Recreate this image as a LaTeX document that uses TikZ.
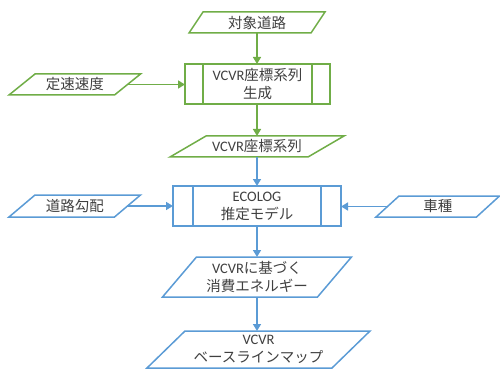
\documentclass[tikz,border=0pt]{standalone}
\usepackage{fontspec}
\setmainfont{Carlito}
\newfontfamily\jp{Noto Sans CJK JP}
\usetikzlibrary{arrows.meta}
\definecolor{gline}{HTML}{70AD47}
\definecolor{bline}{HTML}{5B9BD5}
\definecolor{txt}{HTML}{404040}
\newcommand\parabox[3]{\draw[#1] ([xshift=#3/2 pt]#2.north west) -- ([xshift=#3/2 pt]#2.north east) -- ([xshift=-#3/2 pt]#2.south east) -- ([xshift=-#3/2 pt]#2.south west) -- cycle;}
\newcommand\procbox[3]{\draw[#1] (#2.north west) rectangle (#2.south east);
  \draw[#1] ([xshift=#3 pt]#2.north west) -- ([xshift=#3 pt]#2.south west);
  \draw[#1] ([xshift=-#3 pt]#2.north east) -- ([xshift=-#3 pt]#2.south east);}
\begin{document}
\begin{tikzpicture}[x=1pt,y=-1pt,
  lbl/.style={inner sep=0pt, outer sep=0pt, text=txt, font=\fontsize{14.5}{18}\selectfont, align=center},
  gl/.style={draw=gline, line width=1.5pt},
  bl/.style={draw=bline, line width=1.5pt},
  garr/.style={gl, -{Triangle[length=7pt,width=8pt]}},
  barr/.style={bl, -{Triangle[length=7pt,width=8pt]}}
]
\useasboundingbox (0,0) rectangle (500,374);

\node[lbl, minimum width=122pt, minimum height=21pt] (road) at (257,22.5) {\jp 対象道路};
\node[lbl, minimum width=145pt, minimum height=40pt] (gen) at (257.5,84) {VCVR{\jp 座標系列}\\{\jp 生成}};
\node[lbl, minimum width=105.5pt, minimum height=21pt] (speed) at (74.75,84.5) {\jp 定速速度};
\node[lbl, minimum width=138pt, minimum height=21pt] (seq) at (257,146.5) {VCVR{\jp 座標系列}};
\node[lbl, minimum width=168pt, minimum height=40pt] (eco) at (257,206) {ECOLOG\\{\jp 推定モデル}};
\node[lbl, minimum width=105.5pt, minimum height=22pt] (slope) at (74.75,206) {\jp 道路勾配};
\node[lbl, minimum width=100.5pt, minimum height=21pt] (car) at (437.75,206.5) {\jp 車種};
\node[lbl, minimum width=155pt, minimum height=40pt] (energy) at (257,277) {VCVR{\jp に基づく}\\{\jp 消費エネルギー}};
\node[lbl, minimum width=185pt, minimum height=37pt] (map) at (258.5,349.5) {VCVR\\{\jp ベースラインマップ}};

\parabox{gl}{road}{14}
\procbox{gl}{gen}{18}
\parabox{gl}{speed}{26}
\parabox{gl}{seq}{36}
\procbox{bl}{eco}{20}
\parabox{bl}{slope}{26}
\parabox{bl}{car}{23}
\parabox{bl}{energy}{34}
\parabox{bl}{map}{38}

\draw[garr] (road.south) -- (road.south |- gen.north);
\draw[garr] (speed.east) -- (speed.east -| gen.west);
\draw[garr] (gen.south -| seq.north) -- (seq.north);
\draw[barr] (seq.south) -- (eco.north);
\draw[barr] (slope.east) -- (slope.east -| eco.west);
\draw[barr] (car.west) -- (car.west -| eco.east);
\draw[barr] (eco.south) -- (energy.north);
\draw[barr] (energy.south) -- (energy.south |- map.north);
\end{tikzpicture}
\end{document}
